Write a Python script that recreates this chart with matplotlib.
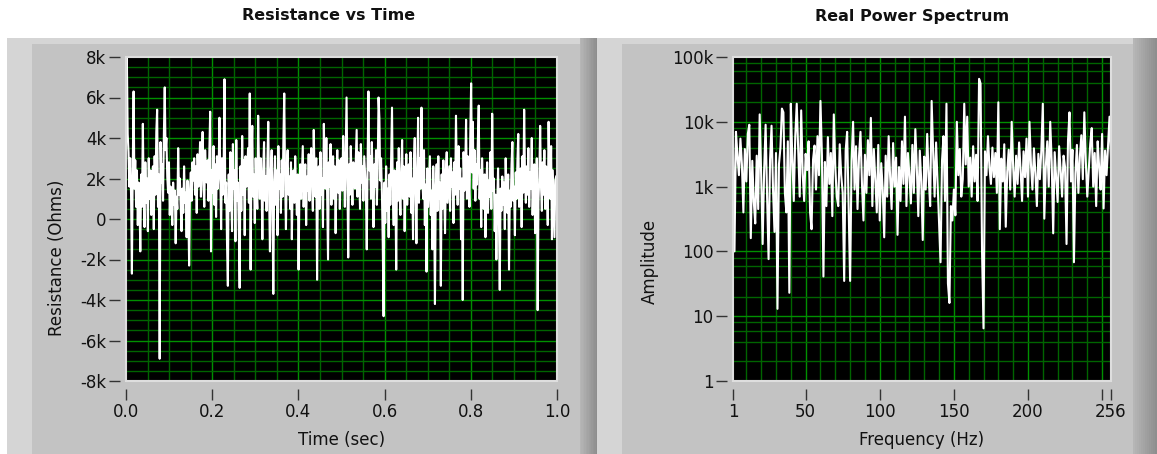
import numpy as np
import matplotlib
matplotlib.use("Agg")
import matplotlib.pyplot as plt
from matplotlib.patches import Rectangle

plt.rcParams["font.family"] = ["DejaVu Sans"]

# ---------------- data ----------------
# Resistance samples (Ohms), 512 samples over 1 s
resistance = [
    5000, 8000, 4200, 3300, 1600, 3000, 1200, -2700, 2400, 6300, 1500, 2900, 600, 2400, -300, 1800,
    900, -1600, 2200, 600, 4700, 1300, -400, 2800, 800, 2000, -600, 3000, 1000, 2400, 200, 1600,
    2600, -500, 3100, 1200, 4300, 5400, 600, 2200, -6900, 3800, 1800, 2700, 900, 4200, 6500, 3400,
    4000, 2100, 1300, 2800, 200, 1600, 900, -300, 1800, 700, 1400, -1200, 1100, 500, 3500, 1200,
    2000, 600, -600, 1500, 300, 2600, 800, 1300, -900, 1900, 500, -2300, 1400, 2300, 900, 2800,
    1900, 3000, 1200, 2600, 300, 3200, 1600, 2500, 3800, 1100, 2900, 4300, 1700, 600, 3400, 2200,
    1800, 2900, 900, 3300, 5300, -1600, 2400, 1300, 3600, 700, 2700, 100, 3100, 1500, 2300, 5000,
    2100, -500, 3000, 1200, 2600, 6900, 800, 1800, -1200, -3300, 2200, 400, 3300, 1000, -600, 3700,
    1500, 2400, -1100, 3900, 900, 1800, -500, -3400, 2600, 400, 4100, 1200, 2900, -800, 3100, 1600,
    2300, 3500, 800, 6200, -2500, 2700, 4600, 1100, 2200, -200, 3000, 1400, 500, 5100, 2600, 1000,
    3000, 1700, -1000, 2500, 3800, 900, 2100, 400, 2800, 4800, 1200, -1600, 2300, 3400, 600, -3700,
    1800, 3100, 700, 2400, -800, 3600, 1500, 2200, 300, 2900, 1100, 4000, 6200, 1900, -500, 2600,
    3400, 1200, 2100, 500, 2800, -1000, 1800, 2400, 800, 3100, 1500, 200, 2200, -2500, 1300, 2700,
    1000, 2300, 3600, 600, 1900, 2700, -300, 2100, 1400, 3200, 900, 2500, 3500, 1600, 400, 4400,
    2200, 1100, 3000, -3000, 1800, 2600, 500, 3300, 1200, 2000, -400, 4700, 2400, 1500, 4000, 900,
    -2000, 2800, 1600, 3700, 700, 2300, 3100, 1000, 2600, -700, 1900, 3400, 1300, 2900, 500, 2200,
    3000, 1400, 4100, 2500, 600, 3300, 6000, 1800, -1900, 2700, 1200, 3600, 2000, 700, 2800, 2300,
    1500, 2900, 4400, 1100, 3300, 2200, 500, 3700, 1800, 2600, 900, 3100, 2300, 1400, -1500, 2700,
    6300, 2400, 3100, 1000, 3800, 2000, -400, 2700, 1600, 3400, 700, 2500, 6000, 5000, 1900, 3000,
    1300, -1200, -4800, 1800, -200, 2600, 400, 1500, -900, 2200, 700, 3000, 5500, 1100, -300, 2400,
    1600, -2500, 2800, 900, 3500, 1300, 200, 2300, 3900, 1000, 2600, -600, 1700, 3200, 700, 2000,
    2700, 1100, 3300, 300, 2000, -1000, 2900, 4000, 1400, -1200, 2400, 5000, 800, 3000, 1500, 5500,
    2000, 1000, 3400, -300, 1700, -2600, 2500, 600, 1900, 3100, 200, 1400, -1500, 2600, 900, -4200,
    1500, 2700, 400, 3100, 1000, 1800, -3300, 2200, 500, 2900, 1300, -700, 2400, 3300, 800, 1700,
    2600, 400, 3000, 1600, 2300, -200, 2800, 1200, 5100, 2100, 700, 3600, 1500, 2500, -1000, 2000,
    -4000, 3300, 1400, 2500, 4900, 1000, 3100, 2000, 600, 4200, 6700, 2300, 4800, 1500, 3400, 900,
    2700, 1700, 3900, 5600, 1000, 2400, -400, 3000, 1300, 500, 2200, -900, 1600, 2800, 300, 1900,
    1100, 3300, 500, 5200, 1400, 2000, -600, 1200, -2000, 800, 2500, 100, -3500, 1500, 400, 2100,
    700, 1800, -500, 3000, 1200, 300, 2200, -2500, 1400, 600, 2700, 3800, 900, 1600, -800, 2300,
    1000, 2900, 4200, 600, 1900, 2500, -400, 3100, 1300, 5400, 2000, 800, 2600, 1200, 3500, 600,
    2300, 1500, 4000, 200, 1800, 2700, -700, 1300, 3000, -4500, 900, 2100, 4600, 1600, 400, 2800,
    1200, 3400, 500, 2600, 1800, -300, 4800, 2200, 1000, 3600, -1000, 2400, 700, -900, 1900, 2100,
]
sample_rate = 512

# Spectrum amplitude for 1..256 Hz
amplitude = [
    4500, 100, 7000, 3000, 1500, 5500, 2200, 400, 3800, 1200, 6500, 9000, 160, 2500, 600, 270,
    3000, 450, 13000, 1500, 130, 1800, 9000, 700, 76, 2600, 8700, 900, 200, 3300, 13, 2200,
    4000, 16000, 14000, 800, 400, 5000, 23, 19000, 2800, 600, 6000, 19000, 3500, 700, 15000, 1600,
    600, 3200, 1800, 5000, 400, 220, 2600, 4300, 900, 6000, 1500, 21000, 3000, 41, 2400, 500,
    5800, 1100, 3300, 350, 13000, 2000, 700, 500, 4500, 1500, 800, 35, 3600, 7000, 500, 35,
    2500, 10000, 900, 4200, 450, 2900, 7000, 1100, 300, 3100, 800, 5200, 1500, 11500, 500, 3800,
    1300, 400, 4400, 300, 2300, 900, 165, 3000, 700, 6000, 1400, 450, 4700, 1000, 2800, 180,
    2000, 600, 5000, 1100, 12000, 500, 3300, 1500, 550, 4400, 800, 7700, 2000, 350, 3600, 1200,
    150, 2900, 900, 6500, 1400, 500, 21000, 3500, 700, 4800, 1200, 300, 68, 2500, 6000, 600,
    19000, 32, 16, 500, 300, 900, 360, 10000, 1500, 3800, 700, 1300, 19000, 2200, 12000, 1000,
    2800, 700, 4200, 1200, 3100, 600, 46000, 39000, 100, 6.5, 3500, 1500, 6000, 2000, 1100, 4000,
    1400, 3300, 800, 20000, 220, 2700, 1200, 4500, 240, 1700, 3700, 900, 10000, 2000, 700, 3000,
    1100, 4800, 1800, 600, 3500, 1400, 5500, 700, 10000, 2200, 900, 3900, 1600, 500, 3200, 1300,
    3600, 19000, 320, 2000, 5000, 1000, 10000, 2400, 190, 3400, 1400, 580, 4200, 1800, 700, 3000,
    2000, 130, 5200, 14000, 1200, 3700, 68, 1600, 4400, 800, 2900, 6200, 1300, 14000, 2500, 700,
    1800, 4600, 8000, 1000, 3300, 500, 5000, 2000, 900, 6500, 460, 3600, 1500, 4300, 12000, 2600,
]

res_ticks = [-8000, -6000, -4000, -2000, 0, 2000, 4000, 6000, 8000]
res_tick_labels = ["-8k", "-6k", "-4k", "-2k", "0", "2k", "4k", "6k", "8k"]
time_ticks = [0.0, 0.2, 0.4, 0.6, 0.8, 1.0]
time_tick_labels = ["0.0", "0.2", "0.4", "0.6", "0.8", "1.0"]
amp_ticks = [1, 10, 100, 1000, 10000, 100000]
amp_tick_labels = ["1", "10", "100", "1k", "10k", "100k"]
freq_ticks = [1, 50, 100, 150, 200, 250, 256]
freq_tick_labels = ["1", "50", "100", "150", "200", "", "256"]

# ---------------- figure ----------------
W, H = 1157, 454
fig = plt.figure(figsize=(W / 100, H / 100), dpi=100, facecolor="white")

PANEL = "#c3c3c3"
LIGHT = "#d5d5d5"
MAJOR = "#009000"
MINOR = "#006400"
TXT = "#111111"
FS = 12
GRID_KW = dict(lw=1.0, zorder=1)


def rect(x0, y0, x1, y1, color, z=0):
    fig.add_artist(Rectangle((x0 / W, 1 - y1 / H), (x1 - x0) / W, (y1 - y0) / H,
                             transform=fig.transFigure, facecolor=color,
                             edgecolor="none", zorder=z))


def shade(x0, x1, y0, y1, c0, c1, steps=12):
    a = np.array(matplotlib.colors.to_rgb(c0))
    b = np.array(matplotlib.colors.to_rgb(c1))
    xs = np.linspace(x0, x1, steps + 1)
    for k in range(steps):
        rect(xs[k], y0, xs[k + 1], y1, tuple(a + (b - a) * k / (steps - 1)), z=1)


def panel(x0, x1, dark_w):
    rect(x0, 38, x1, H, PANEL)
    rect(x0, 38, x1, 44, LIGHT, z=1)
    rect(x0, 38, x0 + 25, H, LIGHT, z=1)
    shade(x1 - dark_w, x1, 38, H, "#b6b6b6", "#8e8e8e")


panel(7, 597, 17)
panel(597, 1157, 24)


def make_axes(x0, x1, y0=57, y1=381):
    ax = fig.add_axes([x0 / W, 1 - y1 / H, (x1 - x0) / W, (y1 - y0) / H])
    ax.set_facecolor("black")
    for s in ax.spines.values():
        s.set_visible(False)
    ax.spines["left"].set_position(("outward", 4))
    ax.spines["bottom"].set_position(("outward", 6))
    ax.tick_params(axis="both", which="major", direction="out", length=8, width=1.0,
                   color="#333333", labelsize=FS, labelcolor=TXT, pad=2)
    ax.tick_params(axis="both", which="minor", length=0)
    ax.add_patch(Rectangle((0, 0), 1, 1, transform=ax.transAxes, fill=False,
                           edgecolor="#dedede", lw=1.5, zorder=5, clip_on=False))
    return ax


# ---- Resistance vs Time ----
ax1 = make_axes(126, 557)
t = np.arange(len(resistance)) / sample_rate
ax1.set_xlim(0, 1)
ax1.set_ylim(-8000, 8000)
for k in range(1, 20):
    ax1.axvline(k * 0.05, color=MAJOR if k % 4 == 0 else MINOR, **GRID_KW)
for k in range(-15, 16):
    ax1.axhline(k * 500, color=MAJOR if k % 4 == 0 else MINOR, **GRID_KW)
ax1.plot(t, resistance, color="white", lw=1.5, zorder=3)
ax1.set_yticks(res_ticks)
ax1.set_yticklabels(res_tick_labels)
ax1.set_xticks(time_ticks)
ax1.set_xticklabels(time_tick_labels)
ax1.set_ylabel("Resistance (Ohms)", fontsize=FS, color=TXT)
ax1.yaxis.set_label_coords(-0.139, 0.38)
ax1.set_xlabel("Time (sec)", fontsize=FS, color=TXT, labelpad=7)

# ---- Real Power Spectrum ----
ax2 = make_axes(733, 1111)
freq = np.arange(1, len(amplitude) + 1)
ax2.set_yscale("log")
ax2.set_xlim(1, 256)
ax2.set_ylim(1, 100000)
for v in range(10, 256, 10):
    ax2.axvline(v, color=MAJOR if v % 50 == 0 else MINOR, **GRID_KW)
for dec in [1, 10, 100, 1000, 10000]:
    for m in [2, 4, 6, 8]:
        ax2.axhline(dec * m, color=MINOR, **GRID_KW)
    if dec > 1:
        ax2.axhline(dec, color=MAJOR, **GRID_KW)
ax2.plot(freq, amplitude, color="white", lw=1.5, zorder=3)
ax2.set_yticks(amp_ticks)
ax2.set_yticklabels(amp_tick_labels)
ax2.yaxis.set_minor_locator(matplotlib.ticker.NullLocator())
ax2.set_xticks(freq_ticks)
ax2.set_xticklabels(freq_tick_labels)
ax2.set_ylabel("Amplitude", fontsize=FS, color=TXT)
ax2.yaxis.set_label_coords(-0.196, 0.37)
ax2.set_xlabel("Frequency (Hz)", fontsize=FS, color=TXT, labelpad=7)

fig.text(329 / W, 1 - 16 / H, "Resistance vs Time", ha="center", va="center",
         fontsize=11.5, fontweight="bold", color=TXT)
fig.text(912 / W, 1 - 16 / H, "Real Power Spectrum", ha="center", va="center",
         fontsize=11.5, fontweight="bold", color=TXT)

fig.savefig("out.png", dpi=100, facecolor="white")
